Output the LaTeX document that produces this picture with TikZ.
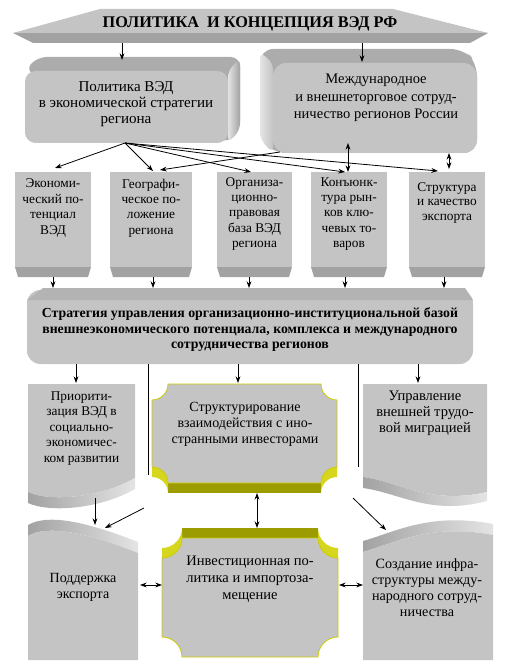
\documentclass[tikz,border=0pt]{standalone}
\usepackage{fontspec}
\setmainfont{Liberation Serif}
\usetikzlibrary{arrows.meta}
\tikzset{every picture/.style={line width=0.75pt}}
\definecolor{face}{RGB}{196,196,196}
\definecolor{band}{RGB}{162,162,162}
\definecolor{bevtop}{RGB}{172,172,172}
\definecolor{bevlight}{RGB}{228,228,228}
\definecolor{olive}{RGB}{156,156,0}
\definecolor{plqline}{RGB}{204,204,0}
\definecolor{crest}{RGB}{214,214,30}
\tikzset{
  txt/.style={align=center, inner sep=0.75pt, font=\fontsize{10}{12}\selectfont},
  arr/.style={line width=0.6pt, -{Stealth[length=5pt,width=3.6pt]}},
  darr/.style={line width=0.6pt, {Stealth[length=5pt,width=3.6pt]}-{Stealth[length=5pt,width=3.6pt]}},
  plq/.style={fill=face, draw=plqline, line width=0.6pt}
}

\begin{document}
\begin{tikzpicture}[x=0.75pt,y=0.75pt,yscale=-1,xscale=1]
\path[use as bounding box] (0,0) rectangle (505,670);

%Shape: Banner
\fill[band] (13,33) -- (488,33) -- (470,43) -- (33,43) -- cycle;
\fill[face] (100,9) -- (393,9) -- (488,33) -- (13,33) -- cycle;
%Shape: Left 3D Box
\fill[bevtop, rounded corners=7] (25,71) -- (37,57) -- (240,57) -- (240,130) -- (228,143) -- cycle;
\shade[left color=bevlight, right color=band, rounded corners=5] (228,71) -- (240,58) -- (240,130) -- (228,143) -- cycle;
\fill[face, rounded corners=8] (25,71) rectangle (228,143);
%Shape: Right 3D Box
\fill[bevtop, rounded corners=10] (260,49) -- (464,49) -- (477,63) -- (477,153) -- (273,153) -- (260,139) -- cycle;
\shade[left color=bevlight, right color=face, rounded corners=5] (260,52) -- (273,63) -- (273,153) -- (260,139) -- cycle;
\fill[face, rounded corners=10] (273,63) rectangle (477,153);

%Shape: Rect boxes
\fill[face] (15,172) rectangle (91,267);
\fill[band] (15,267) -- (91,267) -- (88,277) -- (18,277) -- cycle;
\fill[face] (110,172) rectangle (192,267);
\fill[band] (110,267) -- (192,267) -- (189,277) -- (113,277) -- cycle;
\fill[face] (217,172) rectangle (292,267);
\fill[band] (217,267) -- (292,267) -- (289,277) -- (220,277) -- cycle;
\fill[face] (311,172) rectangle (387,267);
\fill[band] (311,267) -- (387,267) -- (384,277) -- (314,277) -- cycle;
\fill[face] (409,172) rectangle (485,267);
\fill[band] (409,267) -- (485,267) -- (482,277) -- (412,277) -- cycle;

%Shape: Strategy box
\fill[face, rounded corners=10] (27,290) rectangle (473,364);
\fill[bevtop!70!face] (43,288) -- (465,288) -- (473,300) -- (27,300) -- cycle;

%Shape: Wave boxes
\fill[face] (28,384) -- (135,384) -- (135,478) .. controls (100,498) and (50,502) .. (28,492) -- cycle;
\shade[left color=band, right color=bevlight] (28,492) .. controls (50,502) and (100,498) .. (135,478) -- (135,489) .. controls (100,509) and (50,513) .. (28,503) -- cycle;
\fill[face] (363,384) -- (487,384) -- (487,492) .. controls (430,505) and (400,482) .. (363,477) -- cycle;
\shade[left color=band, right color=bevlight] (363,477) .. controls (400,482) and (430,505) .. (487,492) -- (487,501) .. controls (430,516) and (400,493) .. (363,488) -- cycle;
\shade[left color=band, right color=bevlight] (28,525) .. controls (50,512) and (95,525) .. (138,542) -- (138,553) .. controls (95,536) and (50,523) .. (28,536) -- cycle;
\fill[face] (28,536) .. controls (50,523) and (95,536) .. (138,553) -- (138,660) -- (28,660) -- cycle;
\shade[left color=band, right color=bevlight] (363,541) .. controls (395,532) and (430,512) .. (493,524) -- (493,535) .. controls (430,523) and (395,543) .. (363,552) -- cycle;
\fill[face] (363,552) .. controls (395,543) and (430,523) .. (493,535) -- (493,660) -- (363,660) -- cycle;

%Shape: Plaque upper
\fill[olive] (168,483) rectangle (321,493);
\fill[crest] (152,467) .. controls (160.8,467) and (168,474.2) .. (168,483) -- (168,493) .. controls (168,484.2) and (160.8,477) .. (152,477) -- cycle;
\fill[crest] (337,467) .. controls (328.2,467) and (321,474.2) .. (321,483) -- (321,493) .. controls (321,484.2) and (328.2,477) .. (337,477) -- cycle;
\draw[plq] (168,384) -- (321,384) .. controls (321,392.8) and (328.2,400) .. (337,400) -- (337,467) .. controls (328.2,467) and (321,474.2) .. (321,483) -- (168,483) .. controls (168,474.2) and (160.8,467) .. (152,467) -- (152,400) .. controls (160.8,400) and (168,392.8) .. (168,384) -- cycle;
%Shape: Plaque lower
\fill[olive] (182,528) rectangle (318,538);
\fill[crest] (162,558) .. controls (173,558) and (182,549) .. (182,538) -- (182,528) .. controls (182,539) and (173,548) .. (162,548) -- cycle;
\fill[crest] (338,558) .. controls (327,558) and (318,549) .. (318,538) -- (318,528) .. controls (318,539) and (327,548) .. (338,548) -- cycle;
\draw[plq] (182,538) -- (318,538) .. controls (318,549) and (327,558) .. (338,558) -- (338,637) .. controls (327,637) and (318,646) .. (318,657) -- (182,657) .. controls (182,646) and (173,637) .. (162,637) -- (162,558) .. controls (173,558) and (182,549) .. (182,538) -- cycle;

% Text Node
\node[txt, font=\fontsize{12.2}{13}\selectfont\bfseries] (ban) at (250,24) {ПОЛИТИКА~~И КОНЦЕПЦИЯ ВЭД РФ};
% Text Node
\node[txt, font=\fontsize{11.3}{12}\selectfont] (polreg) at (126,104) {Политика ВЭД\\в экономической стратегии\\региона};
% Text Node
\node[txt, font=\fontsize{10.9}{13}\selectfont] (mezhd) at (376,98) {Международное\\и внешнеторговое сотруд-\\ничество регионов России};
% Text Node
\node[txt, font=\fontsize{10}{11.6}\selectfont] (econ) at (53,208) {Экономи-\\ческий по-\\тенциал\\ВЭД};
% Text Node
\node[txt, font=\fontsize{10}{11.6}\selectfont] (geo) at (151,208) {Географи-\\ческое по-\\ложение\\региона};
% Text Node
\node[txt, font=\fontsize{10}{11.6}\selectfont] (org) at (254.5,214) {Организа-\\ционно-\\правовая\\база ВЭД\\региона};
% Text Node
\node[txt, font=\fontsize{10}{11.6}\selectfont] (konj) at (349,214) {Конъюнк-\\тура рын-\\ков клю-\\чевых то-\\варов};
% Text Node
\node[txt, font=\fontsize{10}{11.2}\selectfont] (strexp) at (447,203) {Структура\\и качество\\экспорта};
% Text Node
\node[txt, font=\fontsize{10.35}{11.6}\selectfont\bfseries] (strat) at (250,330) {Стратегия управления организационно-институциональной базой\\внешнеэкономического потенциала, комплекса и международного\\сотрудничества регионов};
% Text Node
\node[txt, font=\fontsize{10}{11.6}\selectfont] (prior) at (81.5,428.5) {Приорити-\\зация ВЭД в\\социально-\\экономичес-\\ком развитии};
% Text Node
\node[txt, font=\fontsize{10.5}{12}\selectfont] (invstr) at (245,424) {Структурирование\\взаимодействия с ино-\\странными инвесторами};
% Text Node
\node[txt, font=\fontsize{10.9}{12}\selectfont] (migr) at (425,413) {Управление\\внешней трудо-\\вой миграцией};
% Text Node
\node[txt, font=\fontsize{10.5}{12.6}\selectfont] (podd) at (83,587.5) {Поддержка\\экспорта};
% Text Node
\node[txt, font=\fontsize{10.9}{12.6}\selectfont] (invpol) at (250,579) {Инвестиционная по-\\литика и импортоза-\\мещение};
% Text Node
\node[txt, font=\fontsize{10.6}{12}\selectfont] (infra) at (427,588) {Создание инфра-\\структуры между-\\народного сотруд-\\ничества};

%Connector ends
\coordinate (ban-l) at (122,43);
\coordinate (ban-r) at (362,43);
\coordinate (polreg-n) at (122,60);
\coordinate (mezhd-n) at (362,62);
\coordinate (polreg-s) at (125,143);
\coordinate (mezhd-sw) at (280,152);
\coordinate (mezhd-s) at (348,143);
\coordinate (mezhd-se) at (449,153);
\coordinate (econ-n) at (55,168);
\coordinate (geo-n) at (153,171);
\coordinate (geo-ne) at (160,170);
\coordinate (org-n) at (251,172);
\coordinate (konj-n) at (345,172);
\coordinate (konj-ne) at (348,172);
\coordinate (strexp-n) at (438,171);
\coordinate (strexp-ne) at (449,169);

%Straight Lines
\draw[arr] (ban-l) -- (polreg-n);
\draw[arr] (ban-r) -- (mezhd-n);
\draw[arr] (polreg-s) -- (econ-n);
\draw[arr] (polreg-s) -- (geo-n);
\draw[arr] (polreg-s) -- (org-n);
\draw[arr] (polreg-s) -- (konj-n);
\draw[arr] (polreg-s) -- (strexp-n);
\draw[arr] (mezhd-sw) -- (geo-ne);
\draw[darr] (mezhd-s) -- (konj-ne);
\draw[darr] (mezhd-se) -- (strexp-ne);
%Straight Lines
\draw[arr] (53,277) -- (53,288);
\draw[arr] (153,277) -- (153,288);
\draw[arr] (249,277) -- (249,288);
\draw[arr] (345,277) -- (345,288);
\draw[arr] (444,277) -- (444,288);
%Straight Lines
\coordinate (strat-sw) at (76,364);
\coordinate (strat-s) at (238,364);
\coordinate (strat-se) at (418,364);
\coordinate (prior-n) at (76,383);
\coordinate (invstr-n) at (238,383);
\coordinate (migr-n) at (418,383);
\draw[arr] (strat-sw) -- (prior-n);
\draw[arr] (strat-s) -- (invstr-n);
\draw[arr] (strat-se) -- (migr-n);
\draw[line width=0.6pt] (148,364) -- (148,475);
\draw[line width=0.6pt] (358,364) -- (358,467);
%Straight Lines
\coordinate (invstr-s) at (257,493);
\coordinate (invpol-n) at (257,528);
\coordinate (prior-s) at (95,498);
\coordinate (podd-n) at (95,525);
\coordinate (podd-ne) at (105,528);
\coordinate (lft-d) at (144,508);
\coordinate (rgt-d) at (353,498);
\coordinate (infra-nw) at (386,530);
\draw[darr] (invstr-s) -- (invpol-n);
\draw[arr] (prior-s) -- (podd-n);
\draw[arr] (lft-d) -- (podd-ne);
\draw[arr] (rgt-d) -- (infra-nw);
\draw[darr] (140,585) -- (162,585);
\draw[darr] (339,585) -- (363,585);

\end{tikzpicture}
\end{document}
